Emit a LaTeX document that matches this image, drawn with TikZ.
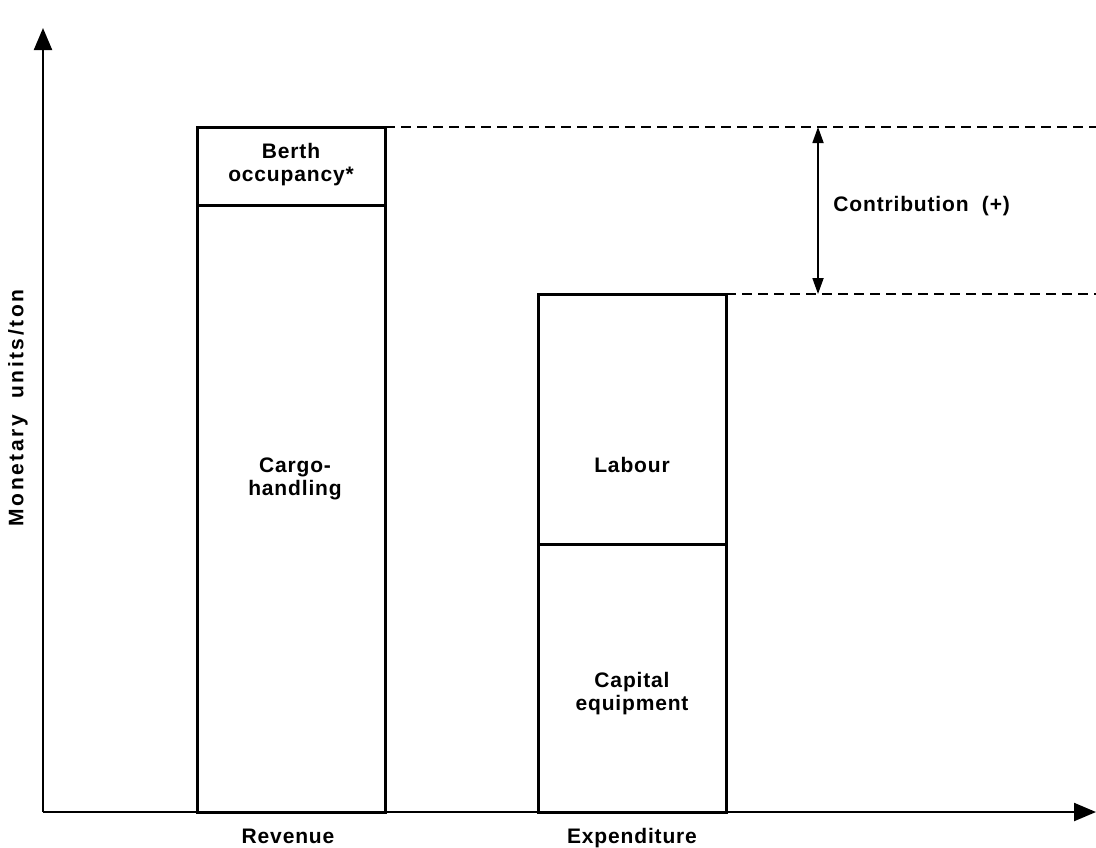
\documentclass[tikz,border=0pt]{standalone}
\usepackage{fontspec}
\setmainfont{Liberation Sans}
\usetikzlibrary{arrows.meta}
\begin{document}
\begin{tikzpicture}[x=0.5pt,y=-0.5pt,
  lbl/.style={font=\fontsize{10.5}{11.5}\selectfont\bfseries\addfontfeature{LetterSpace=4}, align=center, inner sep=0pt},
  bar/.style={line width=1.5pt},
  axis/.style={line width=1.1pt, -{Triangle[length=11pt,width=9pt]}},
  guide/.style={line width=0.9pt, dash pattern=on 5pt off 3pt},
  dim/.style={line width=0.9pt, {Triangle[length=8pt,width=5.5pt]}-{Triangle[length=8pt,width=5.5pt]}}]
\useasboundingbox (0,0) rectangle (1096,847);

% axes
\coordinate (O) at (43,812);
\coordinate (ytip) at (43,28);
\coordinate (xtip) at (1096,812);
\draw[axis] (O) -- (ytip);
\draw[axis] (O) -- (xtip);

% revenue bar
\coordinate (rbl) at (197,812);
\coordinate (rtr) at (385,127);
\coordinate (rdl) at (197,205);
\coordinate (rdr) at (385,205);
\draw[bar] (rbl) rectangle (rtr);
\draw[bar] (rdl) -- (rdr);

% expenditure bar
\coordinate (ebl) at (538,812);
\coordinate (etr) at (726,294);
\coordinate (edl) at (538,544);
\coordinate (edr) at (726,544);
\draw[bar] (ebl) rectangle (etr);
\draw[bar] (edl) -- (edr);

% guide lines
\coordinate (g1) at (1096,127);
\coordinate (g2) at (1096,294);
\draw[guide] (rtr) -- (g1);
\draw[guide] (etr) -- (g2);

% contribution dimension
\coordinate (d1) at (818,127);
\coordinate (d2) at (818,294);
\draw[dim] (d1) -- (d2);

% labels
\node[lbl] (berth) at (291,165) {Berth\\occupancy*};
\node[lbl] (cargo) at (295,479) {Cargo-\\handling};
\node[lbl] (labour) at (632,465) {Labour};
\node[lbl] (capital) at (632,694) {Capital\\equipment};
\node[lbl, anchor=west] (contrib) at (833,206) {Contribution\ \ (+)};
\node[lbl, anchor=base] (rev) at (288,843) {Revenue};
\node[lbl, anchor=base] (exp) at (632,843) {Expenditure};
\node[lbl, rotate=90, font=\fontsize{10.5}{11.5}\selectfont\bfseries\addfontfeature{LetterSpace=12}] (ylab) at (18,408) {Monetary\ \ units/ton};
\end{tikzpicture}
\end{document}
